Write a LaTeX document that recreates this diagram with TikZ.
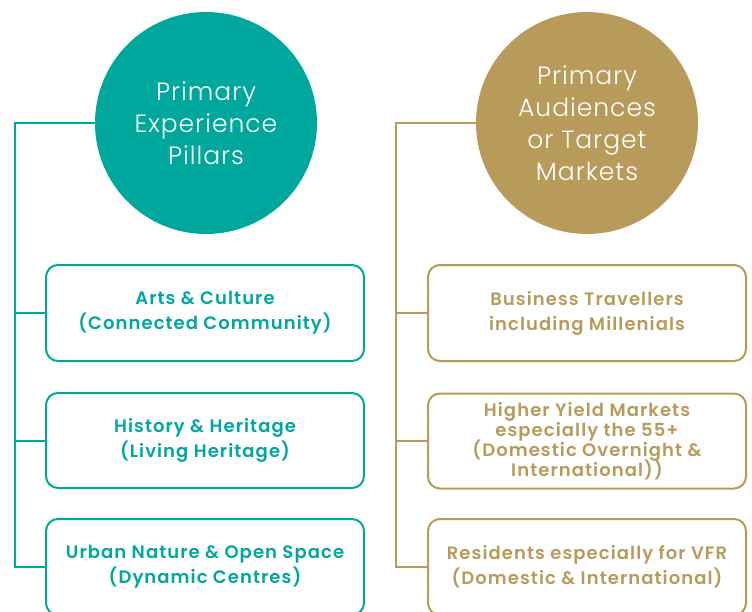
\documentclass[tikz,border=0pt]{standalone}
\usepackage{fontspec}
\setmainfont{Poppins}
\newfontfamily\medfont{Poppins SemiBold}[LetterSpace=6]
\newfontfamily\lightfont{Poppins Light}[LetterSpace=4]
\newcommand\tightls{\lineskiplimit=-100pt\relax\lineskip=0pt\relax}
\definecolor{pteal}{HTML}{00A79D}
\definecolor{pgold}{HTML}{B89B5B}
\begin{document}
\begin{tikzpicture}[x=1pt,y=-1pt,
  bigcircle/.style={circle, inner sep=0pt, minimum size=222pt, text=white, align=center,
    font=\lightfont\fontsize{25}{32}\selectfont\tightls},
  boxnode/.style={rectangle, rounded corners=12pt, line width=2pt, minimum width=318pt,
    align=center, font=\medfont\fontsize{18}{25}\selectfont\tightls},
  link/.style={line width=2pt}]
\useasboundingbox (0,0) rectangle (752,611);
% left column
\node[bigcircle, fill=pteal] (c1) at (206,123) {Primary\\Experience\\Pillars};
\node[boxnode, draw=pteal, text=pteal, minimum height=96pt] (l1) at (205,313) {Arts \& Culture\\(Connected Community)};
\node[boxnode, draw=pteal, text=pteal, minimum height=95pt] (l2) at (205,440.5) {History \& Heritage\\(Living Heritage)};
\node[boxnode, draw=pteal, text=pteal, minimum height=96pt] (l3) at (205,567) {Urban Nature \& Open Space\\(Dynamic Centres)};
\coordinate (lt) at (15,123);
\draw[link, pteal] (c1.west) -- (lt) -- (lt |- l3.west) -- (l3.west);
\draw[link, pteal] (l1.west) -- (lt |- l1.west);
\draw[link, pteal] (l2.west) -- (lt |- l2.west);
% right column
\node[bigcircle, fill=pgold] (c2) at (587,123) {Primary\\Audiences\\or Target\\Markets};
\node[boxnode, draw=pgold, text=pgold, minimum height=96pt] (r1) at (587,313) {Business Travellers\\including Millenials};
\node[boxnode, draw=pgold, text=pgold, minimum height=95pt, font=\medfont\fontsize{18}{20}\selectfont\tightls] (r2) at (587,441) {Higher Yield Markets\\especially the 55+\\(Domestic Overnight \&\\International))};
\node[boxnode, draw=pgold, text=pgold, minimum height=96pt] (r3) at (587,567) {Residents especially for VFR\\(Domestic \& International)};
\coordinate (rt) at (396,123);
\draw[link, pgold] (c2.west) -- (rt) -- (rt |- r3.west) -- (r3.west);
\draw[link, pgold] (r1.west) -- (rt |- r1.west);
\draw[link, pgold] (r2.west) -- (rt |- r2.west);
\end{tikzpicture}
\end{document}
